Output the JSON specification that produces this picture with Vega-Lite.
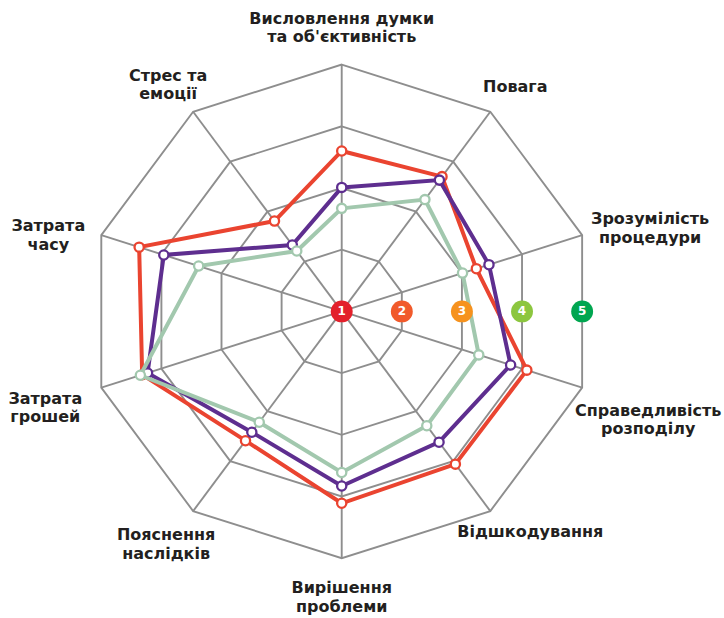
{
  "$schema": "https://vega.github.io/schema/vega-lite/v6.json",
  "width": 724,
  "height": 618,
  "padding": 0,
  "autosize": {"type": "none"},
  "background": "white",
  "config": {"view": {"stroke": null}},
  "datasets": {
    "axes": [
      {"idx": 0, "axis": "Висловлення думки\nта об'єктивність", "rings": [2, 3, 4, 5]},
      {"idx": 1, "axis": "Повага", "rings": [2, 3, 4, 5]},
      {"idx": 2, "axis": "Зрозумілість\nпроцедури", "rings": [2, 3, 4, 5]},
      {"idx": 3, "axis": "Справедливість\nрозподілу", "rings": [2, 3, 4, 5]},
      {"idx": 4, "axis": "Відшкодування", "rings": [2, 3, 4, 5]},
      {"idx": 5, "axis": "Вирішення\nпроблеми", "rings": [2, 3, 4, 5]},
      {"idx": 6, "axis": "Пояснення\nнаслідків", "rings": [2, 3, 4, 5]},
      {"idx": 7, "axis": "Затрата\nгрошей", "rings": [2, 3, 4, 5]},
      {"idx": 8, "axis": "Затрата\nчасу", "rings": [2, 3, 4, 5]},
      {"idx": 9, "axis": "Стрес та\nемоції", "rings": [2, 3, 4, 5]}
    ],
    "scores": [
      {"axis": "Висловлення думки\nта об'єктивність", "series": "A", "value": 3.60},
      {"axis": "Повага", "series": "A", "value": 3.70},
      {"axis": "Зрозумілість\nпроцедури", "series": "A", "value": 3.24},
      {"axis": "Справедливість\nрозподілу", "series": "A", "value": 4.08},
      {"axis": "Відшкодування", "series": "A", "value": 4.06},
      {"axis": "Вирішення\nпроблеми", "series": "A", "value": 4.11},
      {"axis": "Пояснення\nнаслідків", "series": "A", "value": 3.59},
      {"axis": "Затрата\nгрошей", "series": "A", "value": 4.32},
      {"axis": "Затрата\nчасу", "series": "A", "value": 4.37},
      {"axis": "Стрес та\nемоції", "series": "A", "value": 2.81},
      {"axis": "Висловлення думки\nта об'єктивність", "series": "B", "value": 3.01},
      {"axis": "Повага", "series": "B", "value": 3.63},
      {"axis": "Зрозумілість\nпроцедури", "series": "B", "value": 3.45},
      {"axis": "Справедливість\nрозподілу", "series": "B", "value": 3.81},
      {"axis": "Відшкодування", "series": "B", "value": 3.62},
      {"axis": "Вирішення\nпроблеми", "series": "B", "value": 3.83},
      {"axis": "Пояснення\nнаслідків", "series": "B", "value": 3.42},
      {"axis": "Затрата\nгрошей", "series": "B", "value": 4.23},
      {"axis": "Затрата\nчасу", "series": "B", "value": 3.96},
      {"axis": "Стрес та\nемоції", "series": "B", "value": 2.33},
      {"axis": "Висловлення думки\nта об'єктивність", "series": "C", "value": 2.67},
      {"axis": "Повага", "series": "C", "value": 3.24},
      {"axis": "Зрозумілість\nпроцедури", "series": "C", "value": 3.01},
      {"axis": "Справедливість\nрозподілу", "series": "C", "value": 3.28},
      {"axis": "Відшкодування", "series": "C", "value": 3.29},
      {"axis": "Вирішення\nпроблеми", "series": "C", "value": 3.61},
      {"axis": "Пояснення\nнаслідків", "series": "C", "value": 3.22},
      {"axis": "Затрата\nгрошей", "series": "C", "value": 4.35},
      {"axis": "Затрата\nчасу", "series": "C", "value": 3.38},
      {"axis": "Стрес та\nемоції", "series": "C", "value": 2.21}
    ],
    "badges": [{"level": 1}, {"level": 2}, {"level": 3}, {"level": 4}, {"level": 5}]
  },
  "encoding": {
    "x": {"field": "px", "type": "quantitative", "scale": {"domain": [-5.407, 6.049], "nice": false, "zero": false}, "axis": null},
    "y": {"field": "py", "type": "quantitative", "scale": {"domain": [-4.969, 5.047], "nice": false, "zero": false}, "axis": null}
  },
  "layer": [
    {
      "data": {"name": "axes"},
      "transform": [
        {"flatten": ["rings"], "as": ["ring"]},
        {"calculate": "datum.idx * PI / 5", "as": "theta"},
        {"calculate": "(datum.ring - 1) * sin(datum.theta)", "as": "px"},
        {"calculate": "(datum.ring - 1) * cos(datum.theta)", "as": "py"}
      ],
      "mark": {"type": "line", "interpolate": "linear-closed", "color": "#8E8E8E", "strokeWidth": 1.9},
      "encoding": {
        "detail": {"field": "ring", "type": "ordinal"},
        "order": {"field": "idx", "type": "quantitative"}
      }
    },
    {
      "data": {"name": "axes"},
      "transform": [
        {"calculate": "datum.idx * PI / 5", "as": "theta"},
        {"calculate": "4 * sin(datum.theta)", "as": "px"},
        {"calculate": "4 * cos(datum.theta)", "as": "py"}
      ],
      "mark": {"type": "rule", "color": "#8E8E8E", "strokeWidth": 1.9},
      "encoding": {"x2": {"datum": 0}, "y2": {"datum": 0}}
    },
    {
      "data": {"name": "scores"},
      "transform": [
        {"filter": "datum.series === 'A'"},
        {"lookup": "axis", "from": {"data": {"name": "axes"}, "key": "axis", "fields": ["idx"]}},
        {"calculate": "datum.idx * PI / 5", "as": "theta"},
        {"calculate": "(datum.value - 1) * sin(datum.theta)", "as": "px"},
        {"calculate": "(datum.value - 1) * cos(datum.theta)", "as": "py"}
      ],
      "layer": [
        {"mark": {"type": "line", "interpolate": "linear-closed", "color": "#EA4430", "strokeWidth": 4}, "encoding": {"order": {"field": "idx", "type": "quantitative"}}},
        {"mark": {"type": "point", "shape": "circle", "filled": true, "fill": "white", "stroke": "#EA4430", "strokeWidth": 2.3, "size": 85, "opacity": 1}}
      ]
    },
    {
      "data": {"name": "scores"},
      "transform": [
        {"filter": "datum.series === 'B'"},
        {"lookup": "axis", "from": {"data": {"name": "axes"}, "key": "axis", "fields": ["idx"]}},
        {"calculate": "datum.idx * PI / 5", "as": "theta"},
        {"calculate": "(datum.value - 1) * sin(datum.theta)", "as": "px"},
        {"calculate": "(datum.value - 1) * cos(datum.theta)", "as": "py"}
      ],
      "layer": [
        {"mark": {"type": "line", "interpolate": "linear-closed", "color": "#5E2E8F", "strokeWidth": 4}, "encoding": {"order": {"field": "idx", "type": "quantitative"}}},
        {"mark": {"type": "point", "shape": "circle", "filled": true, "fill": "white", "stroke": "#5E2E8F", "strokeWidth": 2.3, "size": 85, "opacity": 1}}
      ]
    },
    {
      "data": {"name": "scores"},
      "transform": [
        {"filter": "datum.series === 'C'"},
        {"lookup": "axis", "from": {"data": {"name": "axes"}, "key": "axis", "fields": ["idx"]}},
        {"calculate": "datum.idx * PI / 5", "as": "theta"},
        {"calculate": "(datum.value - 1) * sin(datum.theta)", "as": "px"},
        {"calculate": "(datum.value - 1) * cos(datum.theta)", "as": "py"}
      ],
      "layer": [
        {"mark": {"type": "line", "interpolate": "linear-closed", "color": "#A2C8AE", "strokeWidth": 4}, "encoding": {"order": {"field": "idx", "type": "quantitative"}}},
        {"mark": {"type": "point", "shape": "circle", "filled": true, "fill": "white", "stroke": "#A2C8AE", "strokeWidth": 2.3, "size": 85, "opacity": 1}}
      ]
    },
    {
      "data": {"name": "badges"},
      "transform": [
        {"calculate": "(datum.level - 1) * cos(PI / 10)", "as": "px"},
        {"calculate": "0", "as": "py"}
      ],
      "mark": {"type": "circle", "size": 480, "opacity": 1},
      "encoding": {"color": {"field": "level", "type": "nominal", "scale": {"domain": [1, 2, 3, 4, 5], "range": ["#E3202B", "#F15A2B", "#F6921E", "#8CC63F", "#00A650"]}, "legend": null}}
    },
    {
      "data": {"name": "badges"},
      "transform": [
        {"calculate": "(datum.level - 1) * cos(PI / 10)", "as": "px"},
        {"calculate": "0", "as": "py"}
      ],
      "mark": {"type": "text", "color": "white", "fontSize": 12, "fontWeight": "bold", "font": "DejaVu Sans", "align": "center", "baseline": "middle"},
      "encoding": {"text": {"field": "level", "type": "quantitative"}}
    },
    {
      "data": {"name": "axes"},
      "transform": [
        {"calculate": "datum.idx * PI / 5", "as": "theta"},
        {"calculate": "4 * sin(datum.theta)", "as": "px"},
        {"calculate": "4 * cos(datum.theta)", "as": "py"},
        {"calculate": "datum.idx === 0 ? 0 : datum.idx === 1 ? 25 : datum.idx === 2 ? 68 : datum.idx === 3 ? 66 : datum.idx === 4 ? 40 : datum.idx === 5 ? 0 : datum.idx === 6 ? -27 : datum.idx === 7 ? -56 : datum.idx === 8 ? -53 : -25", "as": "ox"},
        {"calculate": "datum.idx === 0 ? -46 : datum.idx === 1 ? -25 : datum.idx === 2 ? -16 : datum.idx === 3 ? 23 : datum.idx === 4 ? 21 : datum.idx === 5 ? 30 : datum.idx === 6 ? 24 : datum.idx === 7 ? 11 : datum.idx === 8 ? -9 : -36", "as": "oy"}
      ],
      "mark": {"type": "text", "font": "DejaVu Sans", "fontSize": 16, "fontWeight": "bold", "color": "#231F20", "lineBreak": "\n", "lineHeight": 18.5, "align": "center", "baseline": "middle", "dx": {"expr": "datum.ox"}, "dy": {"expr": "datum.oy"}},
      "encoding": {"text": {"field": "axis", "type": "nominal"}}
    }
  ]
}
